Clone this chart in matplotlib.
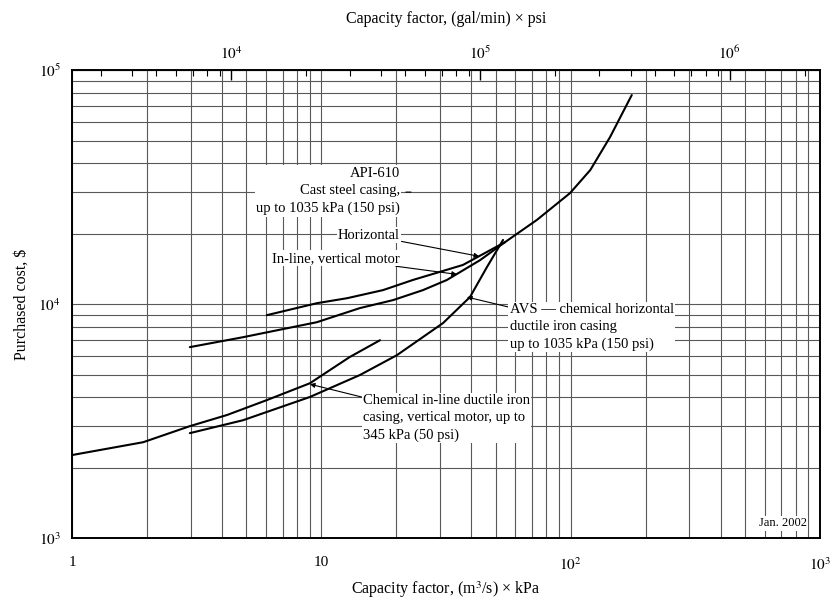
import matplotlib
matplotlib.use("Agg")
import matplotlib.pyplot as plt
from matplotlib.ticker import FixedLocator, FixedFormatter, NullFormatter, LogLocator

plt.rcParams['font.family'] = ['Liberation Serif', 'DejaVu Serif']
plt.rcParams['mathtext.fontset'] = 'stix'

# capacity factor (m3/s x kPa) and purchased cost ($)
chem_inline_x = [1.0, 1.93, 2.97, 4.19, 6.05, 9.0, 13.0, 17.2]
chem_inline_y = [2265, 2570, 3010, 3360, 3890, 4590, 5940, 7010]

avs_x = [2.97, 4.85, 9.0, 14.3, 20.1, 30.8, 39.5, 46.2, 53.6]
avs_y = [2810, 3190, 4010, 4980, 6050, 8300, 10720, 14400, 18800]

horiz_x = [6.05, 9.6, 12.7, 17.7, 23.3, 37.0, 54.6, 73.3, 99.5, 120, 144, 176]
horiz_y = [8970, 10090, 10600, 11480, 12680, 14700, 18400, 22900, 29800, 37400, 51700, 78200]

inline_x = [2.97, 4.85, 7.7, 9.6, 14.3, 19.4, 25.6, 31.9, 43.3, 54.6]
inline_y = [6550, 7220, 7980, 8370, 9620, 10400, 11480, 12680, 15400, 18400]

bottom_ticks = [1, 10, 100, 1000]
bottom_labels = ['1', '10', r'$10^2$', r'$10^3$']
left_ticks = [1e3, 1e4, 1e5]
left_labels = [r'$10^3$', r'$10^4$', r'$10^5$']
top_ticks = [1e4, 1e5, 1e6]
top_labels = [r'$10^4$', r'$10^5$', r'$10^6$']

K = 15850.3 * 0.145038  # (m3/s*kPa) -> (gal/min*psi)

fig = plt.figure(figsize=(8.4, 6.04), dpi=100)
ax = fig.add_axes([0.0857, 0.109, 0.976 - 0.0857, 0.884 - 0.109])
ax.set_xscale('log')
ax.set_yscale('log')
ax.set_xlim(1, 1000)
ax.set_ylim(1e3, 1e5)

ax.grid(True, which='both', color='0.35', lw=0.8)
ax.set_axisbelow(True)

for xs, ys in [(chem_inline_x, chem_inline_y), (avs_x, avs_y),
               (horiz_x, horiz_y), (inline_x, inline_y)]:
    ax.plot(xs, ys, color='black', lw=1.5, solid_capstyle='round',
            solid_joinstyle='round')

ax.xaxis.set_major_locator(FixedLocator(bottom_ticks))
ax.xaxis.set_major_formatter(FixedFormatter(bottom_labels))
ax.xaxis.set_minor_locator(LogLocator(base=10, subs=range(2, 10)))
ax.xaxis.set_minor_formatter(NullFormatter())
ax.yaxis.set_major_locator(FixedLocator(left_ticks))
ax.yaxis.set_major_formatter(FixedFormatter(left_labels))
ax.yaxis.set_minor_locator(LogLocator(base=10, subs=range(2, 10)))
ax.yaxis.set_minor_formatter(NullFormatter())
ax.tick_params(which='both', length=0, labelsize=11)
ax.tick_params(axis='x', pad=13)
ax.tick_params(axis='y', pad=8)

for sp in ax.spines.values():
    sp.set_linewidth(1.4)

top = ax.secondary_xaxis('top', functions=(lambda x: x * K, lambda x: x / K))
top.xaxis.set_major_locator(FixedLocator(top_ticks))
top.xaxis.set_major_formatter(FixedFormatter(top_labels))
top.xaxis.set_minor_locator(LogLocator(base=10, subs=range(2, 10)))
top.xaxis.set_minor_formatter(NullFormatter())
top.tick_params(which='major', direction='in', length=7, width=1, labelsize=11, pad=6)
top.tick_params(which='minor', direction='in', length=4, width=0.8)
top.set_xlabel('Capacity factor, (gal/min) × psi', fontsize=11.5, labelpad=15)

ax.set_xlabel('Capacity factor, (m$^3$/s) × kPa', fontsize=11.5, labelpad=5)
ax.set_ylabel('Purchased cost, $', fontsize=11.5, labelpad=6)

box = dict(facecolor='white', edgecolor='none', pad=1.0)
fs = 10.5
arrow = dict(arrowstyle='-|>', color='black', lw=0.8, mutation_scale=7, shrinkA=0, shrinkB=0)

ax.text(20.7, 30400, 'API-610\nCast steel casing,\nup to 1035 kPa (150 psi)',
        ha='right', va='center', multialignment='right', fontsize=fs,
        linespacing=1.45, bbox=box)
ax.annotate('', xy=(23.5, 30100), xytext=(21.3, 30100),
            arrowprops=dict(arrowstyle='-', color='black', lw=0.8))

ax.annotate('Horizontal', xy=(43, 16000), xytext=(20.7, 19700),
            ha='right', va='center', fontsize=fs, bbox=box, arrowprops=arrow)
ax.annotate('In-line, vertical motor', xy=(35, 13400), xytext=(20.7, 15700),
            ha='right', va='center', fontsize=fs, bbox=box, arrowprops=arrow)

ax.annotate('AVS — chemical horizontal\nductile iron casing\nup to 1035 kPa (150 psi)',
            xy=(38.4, 10720), xytext=(57.1, 7980), ha='left', va='center',
            fontsize=fs, linespacing=1.4, bbox=box, arrowprops=arrow)
ax.annotate('Chemical in-line ductile iron\ncasing, vertical motor, up to\n345 kPa (50 psi)',
            xy=(9.0, 4550), xytext=(14.7, 3260), ha='left', va='center',
            fontsize=fs, linespacing=1.4, bbox=box, arrowprops=arrow)

ax.text(888, 1159, 'Jan. 2002', ha='right', va='center', fontsize=9, bbox=box)

fig.savefig('out.png', dpi=100)
